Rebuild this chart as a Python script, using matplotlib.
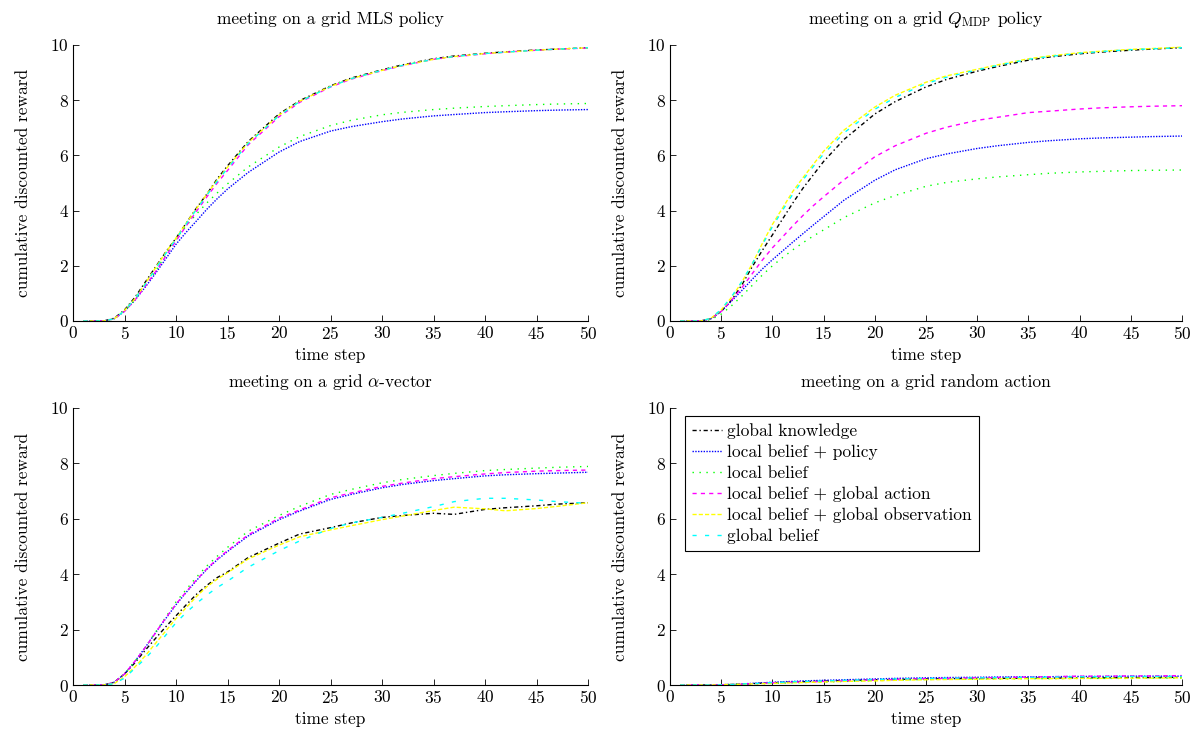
"""
meeting on a grid: cumulative discounted reward per policy (2x2 panels, pgfplots look).
"""
import numpy as np
import matplotlib
matplotlib.use('Agg')
import matplotlib.pyplot as plt

plt.rcParams['font.family'] = ['cmr10', 'DejaVu Serif']
plt.rcParams['mathtext.fontset'] = 'cm'
plt.rcParams['axes.formatter.use_mathtext'] = True
FS = 12.5

# =====================================================
# data
# =====================================================
steps = [1, 2, 3, 4, 5, 6, 7, 8, 9, 10, 11, 12, 13, 14, 15, 17, 20, 22, 25, 27,
         30, 32, 35, 37, 40, 42, 45, 47, 50]

series_names = ['global knowledge', 'local belief + policy', 'local belief',
                'local belief + global action', 'local belief + global observation',
                'global belief']

# -- MLS policy --
mls_global_knowledge = [0, 0, 0, 0.1, 0.4, 0.85, 1.4, 1.95, 2.5, 3.0, 3.55, 4.1, 4.6, 5.15, 5.62,
                        6.5, 7.5, 7.98, 8.52, 8.8, 9.1, 9.28, 9.5, 9.6, 9.7, 9.75, 9.82, 9.85, 9.9]
mls_lb_policy = [0, 0, 0, 0.08, 0.35, 0.75, 1.22, 1.72, 2.25, 2.78, 3.22, 3.63, 4.05, 4.43, 4.78,
                 5.38, 6.12, 6.5, 6.88, 7.04, 7.22, 7.32, 7.43, 7.48, 7.55, 7.58, 7.62, 7.64, 7.66]
mls_lb = [0, 0, 0, 0.08, 0.36, 0.77, 1.27, 1.8, 2.4, 2.98, 3.45, 3.88, 4.28, 4.64, 4.97,
          5.58, 6.3, 6.68, 7.08, 7.27, 7.47, 7.56, 7.66, 7.71, 7.77, 7.8, 7.84, 7.86, 7.88]
mls_lb_action = [0, 0, 0, 0.08, 0.35, 0.75, 1.25, 1.78, 2.35, 2.9, 3.45, 3.98, 4.5, 5.0, 5.45,
                 6.38, 7.4, 7.92, 8.48, 8.76, 9.07, 9.25, 9.48, 9.57, 9.68, 9.74, 9.81, 9.85, 9.89]
mls_lb_obs = [0, 0, 0, 0.08, 0.38, 0.8, 1.35, 1.92, 2.48, 3.0, 3.55, 4.08, 4.6, 5.1, 5.57,
              6.46, 7.46, 7.96, 8.5, 8.78, 9.08, 9.26, 9.48, 9.58, 9.69, 9.74, 9.81, 9.85, 9.9]
mls_global_belief = [0, 0, 0, 0.08, 0.37, 0.8, 1.32, 1.88, 2.44, 2.97, 3.52, 4.05, 4.56, 5.06, 5.53,
                     6.43, 7.44, 7.95, 8.49, 8.78, 9.08, 9.26, 9.48, 9.58, 9.69, 9.74, 9.81, 9.85, 9.9]

# -- Q_MDP policy --
qmdp_global_knowledge = [0, 0, 0, 0.08, 0.35, 0.75, 1.3, 1.95, 2.55, 3.12, 3.7, 4.28, 4.82, 5.3, 5.78,
                         6.58, 7.5, 7.95, 8.48, 8.75, 9.05, 9.22, 9.45, 9.56, 9.68, 9.74, 9.81, 9.85, 9.9]
qmdp_lb_policy = [0, 0, 0, 0.08, 0.35, 0.72, 1.1, 1.5, 1.88, 2.22, 2.54, 2.86, 3.17, 3.48, 3.78,
                  4.38, 5.1, 5.48, 5.88, 6.05, 6.25, 6.35, 6.47, 6.53, 6.6, 6.63, 6.66, 6.68, 6.7]
qmdp_lb = [0, 0, 0, 0.05, 0.25, 0.55, 0.9, 1.28, 1.66, 2.0, 2.3, 2.58, 2.84, 3.08, 3.3,
           3.75, 4.28, 4.55, 4.88, 5.02, 5.15, 5.22, 5.3, 5.35, 5.4, 5.42, 5.45, 5.46, 5.47]
qmdp_lb_action = [0, 0, 0, 0.08, 0.35, 0.75, 1.2, 1.7, 2.2, 2.65, 3.05, 3.45, 3.83, 4.18, 4.5,
                  5.12, 5.95, 6.35, 6.8, 7.02, 7.27, 7.38, 7.55, 7.6, 7.68, 7.72, 7.76, 7.78, 7.8]
qmdp_lb_obs = [0, 0, 0, 0.1, 0.4, 0.85, 1.4, 2.05, 2.8, 3.5, 4.1, 4.7, 5.2, 5.68, 6.15,
               6.92, 7.75, 8.18, 8.65, 8.88, 9.12, 9.28, 9.5, 9.6, 9.72, 9.77, 9.84, 9.87, 9.92]
qmdp_global_belief = [0, 0, 0, 0.1, 0.42, 0.88, 1.42, 2.05, 2.75, 3.42, 4.02, 4.6, 5.12, 5.6, 6.05,
                      6.82, 7.67, 8.1, 8.6, 8.83, 9.1, 9.26, 9.48, 9.58, 9.7, 9.76, 9.83, 9.86, 9.9]

# -- alpha-vector --
alpha_global_knowledge = [0, 0, 0, 0.1, 0.4, 0.8, 1.25, 1.68, 2.1, 2.5, 2.9, 3.28, 3.6, 3.88, 4.08,
                          4.6, 5.12, 5.45, 5.68, 5.85, 6.05, 6.12, 6.2, 6.16, 6.34, 6.4, 6.47, 6.53, 6.58]
alpha_lb_policy = [0, 0, 0, 0.1, 0.4, 0.85, 1.35, 1.88, 2.4, 2.9, 3.35, 3.78, 4.18, 4.52, 4.82,
                   5.38, 5.97, 6.28, 6.7, 6.88, 7.12, 7.24, 7.38, 7.45, 7.55, 7.59, 7.63, 7.65, 7.68]
alpha_lb = [0, 0, 0, 0.1, 0.4, 0.85, 1.35, 1.9, 2.45, 3.0, 3.45, 3.9, 4.3, 4.65, 4.97,
            5.55, 6.12, 6.45, 6.88, 7.06, 7.3, 7.42, 7.56, 7.64, 7.74, 7.78, 7.83, 7.86, 7.89]
alpha_lb_action = [0, 0, 0, 0.1, 0.4, 0.85, 1.35, 1.88, 2.42, 2.92, 3.37, 3.8, 4.2, 4.55, 4.85,
                   5.42, 6.02, 6.32, 6.76, 6.93, 7.17, 7.29, 7.45, 7.52, 7.62, 7.67, 7.72, 7.74, 7.76]
alpha_lb_obs = [0, 0, 0, 0.05, 0.3, 0.65, 1.05, 1.5, 1.95, 2.4, 2.8, 3.2, 3.55, 3.82, 4.05,
                4.55, 5.05, 5.35, 5.6, 5.75, 5.97, 6.1, 6.3, 6.42, 6.36, 6.29, 6.37, 6.45, 6.58]
alpha_global_belief = [0, 0, 0, 0.05, 0.25, 0.6, 0.95, 1.35, 1.8, 2.25, 2.62, 2.95, 3.25, 3.52, 3.75,
                       4.25, 4.85, 5.2, 5.65, 5.85, 6.05, 6.2, 6.44, 6.62, 6.74, 6.74, 6.68, 6.62, 6.56]

# -- random action --
rand_global_knowledge = [0, 0, 0, 0, 0.01, 0.02, 0.03, 0.05, 0.07, 0.08, 0.1, 0.11, 0.12, 0.13, 0.14,
                         0.16, 0.19, 0.2, 0.22, 0.23, 0.24, 0.24, 0.25, 0.25, 0.26, 0.26, 0.27, 0.27, 0.28]
rand_lb_policy = [0, 0, 0, 0, 0.01, 0.02, 0.04, 0.06, 0.08, 0.1, 0.12, 0.13, 0.15, 0.16, 0.17,
                  0.19, 0.22, 0.24, 0.26, 0.27, 0.28, 0.29, 0.3, 0.3, 0.31, 0.31, 0.32, 0.32, 0.32]
rand_lb = [0, 0, 0, 0, 0.01, 0.02, 0.03, 0.04, 0.05, 0.06, 0.07, 0.08, 0.09, 0.1, 0.11,
           0.13, 0.16, 0.18, 0.2, 0.21, 0.22, 0.22, 0.23, 0.23, 0.24, 0.24, 0.24, 0.25, 0.25]
rand_lb_action = [0, 0, 0, 0, 0.01, 0.02, 0.03, 0.05, 0.06, 0.08, 0.09, 0.1, 0.11, 0.12, 0.13,
                  0.15, 0.18, 0.2, 0.23, 0.24, 0.26, 0.27, 0.29, 0.3, 0.32, 0.32, 0.33, 0.33, 0.34]
rand_lb_obs = [0, 0, 0, 0, 0.01, 0.02, 0.03, 0.04, 0.05, 0.06, 0.07, 0.08, 0.09, 0.1, 0.11,
               0.13, 0.15, 0.17, 0.19, 0.2, 0.21, 0.22, 0.23, 0.23, 0.24, 0.24, 0.25, 0.25, 0.26]
rand_global_belief = [0, 0, 0, 0, 0.01, 0.02, 0.04, 0.05, 0.07, 0.09, 0.1, 0.12, 0.13, 0.14, 0.15,
                      0.17, 0.2, 0.22, 0.24, 0.25, 0.26, 0.27, 0.28, 0.29, 0.3, 0.3, 0.31, 0.31, 0.31]

panel_titles = ['meeting on a grid MLS policy',
                r'meeting on a grid $Q_{\mathrm{MDP}}$ policy',
                r'meeting on a grid $\alpha$-vector',
                'meeting on a grid random action']

panel_data = [
    [mls_global_knowledge, mls_lb_policy, mls_lb, mls_lb_action, mls_lb_obs, mls_global_belief],
    [qmdp_global_knowledge, qmdp_lb_policy, qmdp_lb, qmdp_lb_action, qmdp_lb_obs, qmdp_global_belief],
    [alpha_global_knowledge, alpha_lb_policy, alpha_lb, alpha_lb_action, alpha_lb_obs, alpha_global_belief],
    [rand_global_knowledge, rand_lb_policy, rand_lb, rand_lb_action, rand_lb_obs, rand_global_belief],
]

# pgfplots-like styles
colors = ['black', 'blue', '#00ff00', 'magenta', 'yellow', 'cyan']
dashes = [(0, (3, 2, 1, 2)), (0, (1, 1)), (0, (1, 4)),
          (0, (3, 3)), (0, (3, 1.5)), (0, (3, 6))]

# axes rectangles in figure fractions [left, bottom, width, height]
rects = [[0.0608, 0.5603, 0.4288, 0.3781],
         [0.5579, 0.5603, 0.4263, 0.3781],
         [0.0608, 0.0616, 0.4288, 0.3795],
         [0.5579, 0.0616, 0.4263, 0.3795]]

fig = plt.figure(figsize=(12.01, 7.30), dpi=100)
axes = []
for rect, title, ys in zip(rects, panel_titles, panel_data):
    ax = fig.add_axes(rect)
    for y, c, ls, name in zip(ys, colors, dashes, series_names):
        ax.plot(steps, y, color=c, linestyle=ls, lw=1.0, label=name)
    ax.set_xlim(0, 50)
    ax.set_ylim(0, 10)
    ax.set_xticks(range(0, 51, 5))
    ax.set_yticks(range(0, 11, 2))
    ax.spines['top'].set_visible(False)
    ax.spines['right'].set_visible(False)
    ax.tick_params(direction='in', length=4, width=0.6, labelsize=FS, pad=3)
    ax.set_xlabel('time step', fontsize=FS, labelpad=4)
    ax.set_ylabel('cumulative discounted reward', fontsize=FS, labelpad=14)
    ax.set_title(title, fontsize=FS, pad=15)
    axes.append(ax)

leg = axes[3].legend(loc='upper left', bbox_to_anchor=(0.03, 0.97), fontsize=FS,
                     frameon=True, fancybox=False, edgecolor='black', framealpha=1,
                     handlelength=1.7, handletextpad=0.3, labelspacing=0.3,
                     borderpad=0.4, borderaxespad=0)
leg.get_frame().set_linewidth(0.8)

fig.savefig('out.png', dpi=100)
